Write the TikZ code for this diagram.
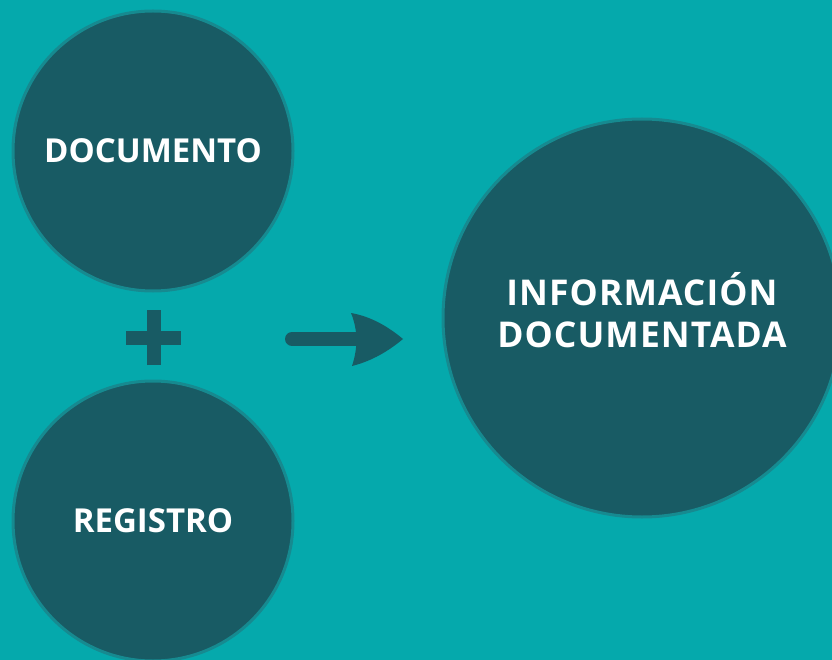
\documentclass[tikz,border=0pt]{standalone}
\usepackage{fontspec}
\setmainfont{Open Sans}
\newfontfamily\espaciada[LetterSpace=3]{Open Sans}
\usetikzlibrary{positioning}
\definecolor{fondo}{HTML}{05A9AC}
\definecolor{circulo}{HTML}{185B64}
\definecolor{borde}{HTML}{168A90}
\begin{document}
\begin{tikzpicture}[line cap=round,line join=round,x=1pt,y=-1pt,
    bloque/.style={circle, draw=borde, fill=circulo, line width=3pt, inner sep=0pt, text=white, align=center, font=\bfseries\fontsize{33}{42}\selectfont},
    signo/.style={draw=circulo, line width=14pt, line cap=butt}]
                        \fill[fondo] (0,0) rectangle (832,660);
                        \useasboundingbox (0,0) rectangle (832,660);
                        \clip (0,0) rectangle (832,660);

                        \node[bloque, minimum size=280pt] (doc) at (153,151) {DOCUMENTO};
                        \node[bloque, minimum size=280pt] (reg) at (153,521) {REGISTRO};
                        \node[bloque, minimum size=398pt] (info) at (642,318) {};
                        \node[text=white, align=center, font=\espaciada\bfseries\fontsize{35.5}{42.5}\selectfont] (infotxt) at ([yshift=8pt]info.center) {INFORMACI\'ON\\DOCUMENTADA};

                        % el signo +
                        \coordinate (mas) at (153.5,337.5);
                        \draw[signo] ([xshift=-27.5pt]mas) -- ([xshift=27.5pt]mas);
                        \draw[signo] ([yshift=-27.5pt]mas) -- ([yshift=27.5pt]mas);

                        % la flecha
                        \coordinate (ini) at (292,339);
                        \coordinate (fin) at (403,339);
                        \draw[draw=circulo, line width=14pt, line cap=round] (ini) -- ([xshift=-40pt]fin);
                        \fill[circulo] (fin) .. controls (385,324) and (368,316) .. (351,313)
                                       .. controls (358,330) and (358,348) .. (352,366)
                                       .. controls (368,362) and (385,354) .. cycle;
                    \end{tikzpicture}
\end{document}
